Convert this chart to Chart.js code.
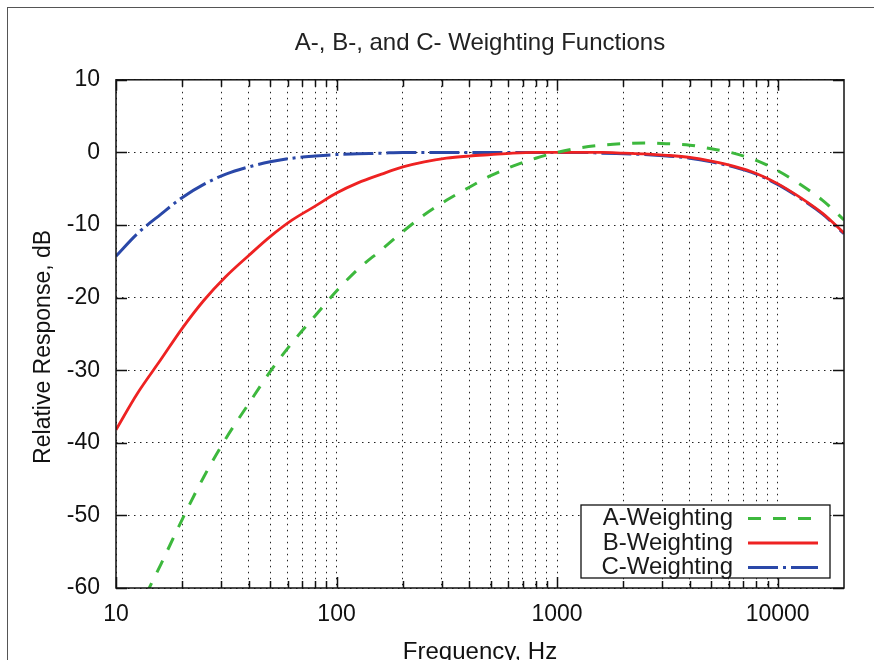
<!DOCTYPE html>
<html lang="en">

<head>
  <meta charset="UTF-8">
  <title>A-, B-, and C- Weighting Functions</title>
  <style>
    body { margin: 0; background: #fff; overflow: hidden; }
    #wrap { position: relative; width: 874px; height: 660px; }
    #edge { position: absolute; left: 7px; top: 7px; width: 900px; height: 700px; border: 1.5px solid #555; }
    #chart { position: absolute; left: 0; top: 0; }
  </style>
</head>

<body>
  <div id="wrap">
    <div id="edge"></div>
    <canvas id="chart" width="874" height="660"></canvas>
  </div>

  <script src="https://cdn.jsdelivr.net/npm/chart.js@4/dist/chart.umd.min.js"></script>
  <script>
    // 1/3 octave band centres, Hz
    const freqs = [10, 12.5, 16, 20, 25, 31.5, 40, 50, 63, 80, 100, 125, 160, 200, 250, 315, 400, 500, 630, 800,
      1000, 1250, 1600, 2000, 2500, 3150, 4000, 5000, 6300, 8000, 10000, 12500, 16000, 20000];

    const aWeight = [-70.4, -63.4, -56.7, -50.5, -44.7, -39.4, -34.6, -30.2, -26.2, -22.5, -19.1, -16.1, -13.4, -10.9,
      -8.6, -6.6, -4.8, -3.2, -1.9, -0.8, 0, 0.6, 1.0, 1.2, 1.3, 1.2, 1.0, 0.5, -0.1, -1.1, -2.5, -4.3, -6.6, -9.3];
    const bWeight = [-38.2, -33.2, -28.5, -24.2, -20.4, -17.1, -14.2, -11.6, -9.3, -7.4, -5.6, -4.2, -3.0, -2.0,
      -1.3, -0.8, -0.5, -0.3, -0.1, 0, 0, 0, 0, -0.1, -0.2, -0.4, -0.7, -1.2, -1.9, -2.9, -4.3, -6.1, -8.4, -11.1];
    const cWeight = [-14.3, -11.2, -8.5, -6.2, -4.4, -3.0, -2.0, -1.3, -0.8, -0.5, -0.3, -0.2, -0.1, 0,
      0, 0, 0, 0, 0, 0, 0, 0, -0.1, -0.2, -0.3, -0.5, -0.8, -1.3, -2.0, -3.0, -4.4, -6.2, -8.5, -11.2];

    const seriesNames = ['A-Weighting', 'B-Weighting', 'C-Weighting'];

    const xGrid = [10, 20, 30, 40, 50, 60, 70, 80, 90, 100, 200, 300, 400, 500, 600, 700, 800, 900,
      1000, 2000, 3000, 4000, 5000, 6000, 7000, 8000, 9000, 10000];
    const xLabels = [10, 100, 1000, 10000];
    const yTicks = [-60, -50, -40, -30, -20, -10, 0, 10];

    const FONT = "'Liberation Sans', Arial, Helvetica, sans-serif";

    function pts(vals) {
      return freqs.map((f, i) => ({ x: f, y: vals[i] }));
    }

    // gnuplot style box, inward ticks, y label and legend inside the plot
    const gnuFrame = {
      id: 'gnuFrame',
      afterDatasetsDraw(chart) {
        const { ctx, chartArea: a, scales: { x, y } } = chart;
        ctx.save();
        ctx.strokeStyle = '#111';
        ctx.lineWidth = 1.5;
        ctx.beginPath();
        xGrid.forEach(v => {
          const px = Math.round(x.getPixelForValue(v)) + 0.5;
          const len = xLabels.includes(v) ? 11 : 7;
          ctx.moveTo(px, a.bottom); ctx.lineTo(px, a.bottom - len);
          ctx.moveTo(px, a.top); ctx.lineTo(px, a.top + len);
        });
        yTicks.forEach(v => {
          const py = Math.round(y.getPixelForValue(v)) + 0.5;
          ctx.moveTo(a.left, py); ctx.lineTo(a.left + 11, py);
          ctx.moveTo(a.right, py); ctx.lineTo(a.right - 11, py);
        });
        ctx.stroke();
        ctx.strokeRect(a.left, a.top, a.width, a.height);

        // y axis label, sits a little below the middle like gnuplot
        ctx.save();
        ctx.translate(44, (a.top + a.bottom) / 2 + 13);
        ctx.rotate(-Math.PI / 2);
        ctx.font = '23px ' + FONT;
        ctx.fillStyle = '#111';
        ctx.textAlign = 'center';
        ctx.textBaseline = 'middle';
        ctx.fillText('Relative Response, dB', 0, 0);
        ctx.restore();

        // legend
        const bw = 249, bh = 73;
        const bx = a.right - 14 - bw, by = a.bottom - 10 - bh;
        ctx.fillStyle = '#fff';
        ctx.fillRect(bx, by, bw, bh);
        ctx.lineWidth = 1.3;
        ctx.strokeRect(bx, by, bw, bh);
        ctx.font = '24px ' + FONT;
        ctx.textAlign = 'right';
        ctx.textBaseline = 'middle';
        chart.data.datasets.forEach((ds, i) => {
          const ry = by + 13.5 + i * 24.5;
          ctx.fillStyle = '#1a1a1a';
          ctx.fillText(ds.label, bx + 152, ry);
          ctx.strokeStyle = ds.borderColor;
          ctx.lineWidth = ds.borderWidth;
          ctx.setLineDash(ds.borderDash || []);
          ctx.beginPath();
          ctx.moveTo(bx + 167, ry);
          ctx.lineTo(bx + 237, ry);
          ctx.stroke();
        });
        ctx.restore();
      }
    };

    new Chart('chart', {
      type: 'line',
      data: {
        datasets: [{
          label: seriesNames[0],
          data: pts(aWeight),
          borderColor: '#3db83d',
          borderWidth: 3,
          borderDash: [13, 12]
        }, {
          label: seriesNames[1],
          data: pts(bWeight),
          borderColor: '#ee2222',
          borderWidth: 2.8
        }, {
          label: seriesNames[2],
          data: pts(cWeight),
          borderColor: '#2a48a8',
          borderWidth: 3,
          borderDash: [30, 5, 3, 5]
        }]
      },
      options: {
        responsive: false,
        animation: false,
        events: [],
        elements: { point: { radius: 0 }, line: { cubicInterpolationMode: 'monotone' } },
        layout: { padding: { left: 0, right: 30, top: 0, bottom: 0 } },
        plugins: {
          legend: { display: false },
          tooltip: { enabled: false },
          title: {
            display: true,
            fullSize: false,
            text: 'A-, B-, and C- Weighting Functions',
            color: '#222',
            font: { family: FONT, size: 24, weight: 'normal' },
            padding: { top: 29, bottom: 22 }
          }
        },
        scales: {
          x: {
            type: 'logarithmic',
            min: 10,
            max: 20000,
            afterBuildTicks: s => { s.ticks = xGrid.map(v => ({ value: v })); },
            afterFit: s => { s.height = 72; },
            ticks: {
              autoSkip: false,
              maxRotation: 0,
              padding: 13,
              color: '#111',
              font: { family: FONT, size: 23 },
              callback: v => xLabels.includes(v) ? String(v) : ''
            },
            grid: { color: '#222', lineWidth: 1, drawTicks: false },
            border: { display: false, dash: [1.5, 4.5] },
            title: {
              display: true,
              text: 'Frequency, Hz',
              color: '#111',
              font: { family: FONT, size: 24 },
              padding: { top: 0, bottom: -7 }
            }
          },
          y: {
            min: -60,
            max: 10,
            afterBuildTicks: s => { s.ticks = yTicks.map(v => ({ value: v })); },
            afterFit: s => { s.width = 116; },
            ticks: {
              padding: 16,
              color: '#111',
              font: { family: FONT, size: 23 }
            },
            grid: { color: '#222', lineWidth: 1, drawTicks: false },
            border: { display: false, dash: [1.5, 4.5] }
          }
        }
      },
      plugins: [gnuFrame]
    });
  </script>
</body>

</html>
